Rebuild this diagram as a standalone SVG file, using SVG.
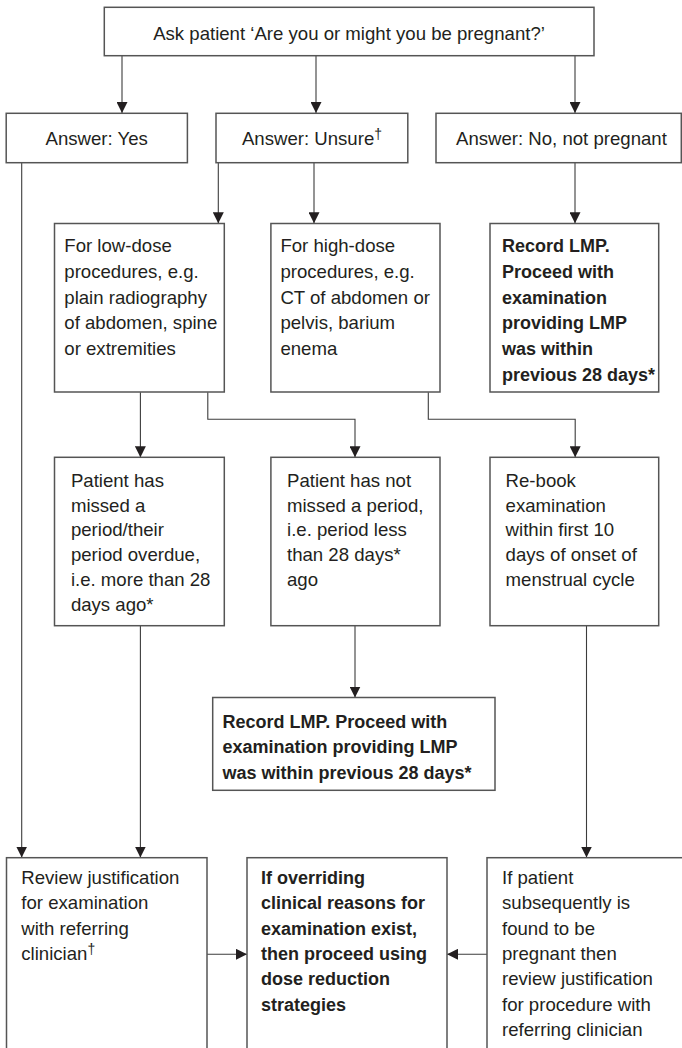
<svg xmlns="http://www.w3.org/2000/svg" width="682" height="1048" viewBox="0 0 682 1048">
<style>
.box{fill:#fff;stroke:#555;stroke-width:1.5}
.t{font-family:"Liberation Sans",Arial,sans-serif;font-size:18.6px;fill:#231f20}
.b{font-weight:bold;font-size:18px}
.c{text-anchor:middle}
.sup{font-size:14px}
.ln{fill:none;stroke:#3c3c3c;stroke-width:1.1}
</style>
<defs>
<marker id="ah" viewBox="0 0 11 11" refX="11" refY="5.5" markerWidth="11" markerHeight="11" markerUnits="userSpaceOnUse" orient="auto">
<path d="M0,0 L11,5.5 L0,11 z" fill="#231f20"/>
</marker>
</defs>
<rect width="682" height="1048" fill="#fff"/>

<g id="connectors">
<path class="ln" marker-end="url(#ah)" d="M122,56 V113"/>
<path class="ln" marker-end="url(#ah)" d="M316,56 V113"/>
<path class="ln" marker-end="url(#ah)" d="M575,56 V113"/>
<path class="ln" marker-end="url(#ah)" d="M21.7,163 V857.5"/>
<path class="ln" marker-end="url(#ah)" d="M218.3,163 V223.3"/>
<path class="ln" marker-end="url(#ah)" d="M314,163 V223.3"/>
<path class="ln" marker-end="url(#ah)" d="M575,163 V223.3"/>
<path class="ln" marker-end="url(#ah)" d="M140.4,392.3 V457.3"/>
<path class="ln" marker-end="url(#ah)" d="M207.8,392.3 V419.3 H355 V457.3"/>
<path class="ln" marker-end="url(#ah)" d="M428.3,392.3 V419.3 H575.2 V457.3"/>
<path class="ln" marker-end="url(#ah)" d="M140.4,625.7 V857.5"/>
<path class="ln" marker-end="url(#ah)" d="M355,625.7 V697.5"/>
<path class="ln" marker-end="url(#ah)" d="M586.5,625.7 V857.5"/>
<path class="ln" marker-end="url(#ah)" d="M207,954.3 H247"/>
<path class="ln" marker-end="url(#ah)" d="M487,954.3 H447"/>
</g>

<g id="ask">
<rect class="box" x="104.3" y="7.3" width="489.7" height="48.4"/>
<text class="t c" x="349" y="40">Ask patient ‘Are you or might you be pregnant?’</text>
</g>

<g id="yes">
<rect class="box" x="6.2" y="113.3" width="181.2" height="49.4"/>
<text class="t c" x="96.7" y="144.5">Answer: Yes</text>
</g>

<g id="unsure">
<rect class="box" x="216" y="113.3" width="191.8" height="49.4"/>
<text class="t c" x="312" y="144.5">Answer: Unsure<tspan class="sup" dy="-6">†</tspan></text>
</g>

<g id="no">
<rect class="box" x="436" y="113.3" width="245.3" height="49.4"/>
<text class="t" x="456" y="144.5">Answer: No, not pregnant</text>
</g>

<g id="lowdose">
<rect class="box" x="54.5" y="223.5" width="169.8" height="168.5"/>
<text class="t" x="64.3" y="252">For low-dose</text>
<text class="t" x="64.3" y="277.8">procedures, e.g.</text>
<text class="t" x="64.3" y="303.6">plain radiography</text>
<text class="t" x="64.3" y="329.4">of abdomen, spine</text>
<text class="t" x="64.3" y="355.2">or extremities</text>
</g>

<g id="highdose">
<rect class="box" x="270.9" y="223.5" width="169.1" height="168.5"/>
<text class="t" x="280.4" y="252">For high-dose</text>
<text class="t" x="280.4" y="277.8">procedures, e.g.</text>
<text class="t" x="280.4" y="303.6">CT of abdomen or</text>
<text class="t" x="280.4" y="329.4">pelvis, barium</text>
<text class="t" x="280.4" y="355.2">enema</text>
</g>

<g id="record1">
<rect class="box" x="490" y="223.5" width="168.7" height="168.5"/>
<text class="t b" x="502" y="252">Record LMP.</text>
<text class="t b" x="502" y="277.8">Proceed with</text>
<text class="t b" x="502" y="303.6">examination</text>
<text class="t b" x="502" y="329.4">providing LMP</text>
<text class="t b" x="502" y="355.2">was within</text>
<text class="t b" x="502" y="381">previous 28 days*</text>
</g>

<g id="missed">
<rect class="box" x="54.5" y="457.3" width="169.8" height="168.4"/>
<text class="t" x="70.9" y="486.7">Patient has</text>
<text class="t" x="70.9" y="511.5">missed a</text>
<text class="t" x="70.9" y="536.3">period/their</text>
<text class="t" x="70.9" y="561.1">period overdue,</text>
<text class="t" x="70.9" y="585.9">i.e. more than 28</text>
<text class="t" x="70.9" y="610.7">days ago*</text>
</g>

<g id="notmissed">
<rect class="box" x="270.9" y="457.3" width="169.1" height="168.4"/>
<text class="t" x="287" y="486.7">Patient has not</text>
<text class="t" x="287" y="511.5">missed a period,</text>
<text class="t" x="287" y="536.3">i.e. period less</text>
<text class="t" x="287" y="561.1">than 28 days*</text>
<text class="t" x="287" y="585.9">ago</text>
</g>

<g id="rebook">
<rect class="box" x="490" y="457.3" width="168.7" height="168.4"/>
<text class="t" x="505.6" y="486.7">Re-book</text>
<text class="t" x="505.6" y="511.5">examination</text>
<text class="t" x="505.6" y="536.3">within first 10</text>
<text class="t" x="505.6" y="561.1">days of onset of</text>
<text class="t" x="505.6" y="585.9">menstrual cycle</text>
</g>

<g id="record2">
<rect class="box" x="212.7" y="697.5" width="282.3" height="92.8"/>
<text class="t b" x="222.5" y="727.5">Record LMP. Proceed with</text>
<text class="t b" x="222.5" y="753">examination providing LMP</text>
<text class="t b" x="222.5" y="778.5">was within previous 28 days*</text>
</g>

<g id="review">
<rect class="box" x="6.5" y="857.7" width="200.5" height="210"/>
<text class="t" x="21.3" y="884">Review justification</text>
<text class="t" x="21.3" y="909.3">for examination</text>
<text class="t" x="21.3" y="934.6">with referring</text>
<text class="t" x="21.3" y="959.9">clinician<tspan class="sup" dy="-6">†</tspan></text>
</g>

<g id="overriding">
<rect class="box" x="247" y="857.7" width="200" height="210"/>
<text class="t b" x="261" y="884">If overriding</text>
<text class="t b" x="261" y="909.3">clinical reasons for</text>
<text class="t b" x="261" y="934.6">examination exist,</text>
<text class="t b" x="261" y="959.9">then proceed using</text>
<text class="t b" x="261" y="985.2">dose reduction</text>
<text class="t b" x="261" y="1010.5">strategies</text>
</g>

<g id="subsequently">
<rect class="box" x="487" y="857.7" width="210" height="210"/>
<text class="t" x="502" y="884">If patient</text>
<text class="t" x="502" y="909.3">subsequently is</text>
<text class="t" x="502" y="934.6">found to be</text>
<text class="t" x="502" y="959.9">pregnant then</text>
<text class="t" x="502" y="985.2">review justification</text>
<text class="t" x="502" y="1010.5">for procedure with</text>
<text class="t" x="502" y="1035.8">referring clinician</text>
</g>
</svg>
